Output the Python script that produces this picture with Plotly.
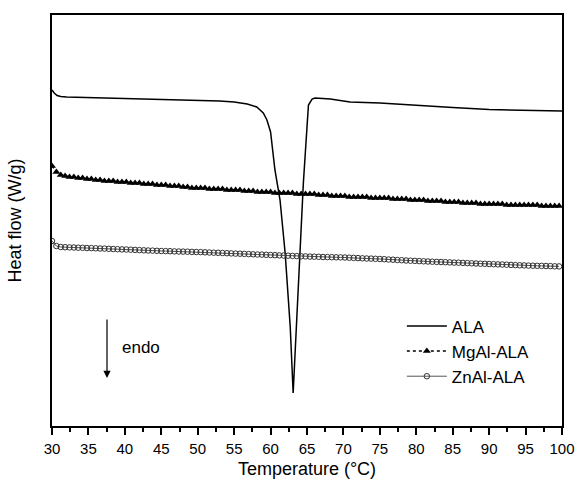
import plotly.graph_objects as go

# ---------------- data ----------------
ala_temp = [30.0, 30.3, 30.7, 31.2, 32.0, 35.0, 40.0, 45.0, 50.0, 53.0, 55.0, 56.8, 58.1, 59.0,
            59.5, 60.0, 60.6, 61.3, 62.0, 62.7, 63.1, 63.6, 64.0, 64.5, 65.0, 65.2, 65.7, 66.1,
            68.2, 70.9, 75.0, 80.0, 85.0, 90.0, 95.0, 100.0]
ala_heat = [3.36, 3.33, 3.305, 3.295, 3.29, 3.285, 3.277, 3.27, 3.26, 3.25, 3.24, 3.22, 3.19, 3.13,
            3.06, 2.94, 2.56, 2.26, 1.73, 0.99, 0.33, 1.06, 1.79, 2.43, 2.99, 3.21, 3.27, 3.28,
            3.27, 3.24, 3.23, 3.205, 3.185, 3.165, 3.155, 3.15]

ldh_temp = [30.0, 30.6, 31.2, 31.8, 32.4, 33.0, 33.6, 34.2, 34.8, 35.4, 36.0, 36.6, 37.2, 37.8,
            38.4, 39.0, 39.6, 40.2, 40.8, 41.4, 42.0, 42.6, 43.2, 43.8, 44.4, 45.0, 45.6, 46.2,
            46.8, 47.4, 48.0, 48.6, 49.2, 49.8, 50.4, 51.0, 51.6, 52.2, 52.8, 53.4, 54.0, 54.6,
            55.2, 55.8, 56.4, 57.0, 57.6, 58.2, 58.8, 59.4, 60.0, 60.6, 61.2, 61.8, 62.4, 63.0,
            63.6, 64.2, 64.8, 65.4, 66.0, 66.6, 67.2, 67.8, 68.4, 69.0, 69.6, 70.2, 70.8, 71.4,
            72.0, 72.6, 73.2, 73.8, 74.4, 75.0, 75.6, 76.2, 76.8, 77.4, 78.0, 78.6, 79.2, 79.8,
            80.4, 81.0, 81.6, 82.2, 82.8, 83.4, 84.0, 84.6, 85.2, 85.8, 86.4, 87.0, 87.6, 88.2,
            88.8, 89.4, 90.0, 90.6, 91.2, 91.8, 92.4, 93.0, 93.6, 94.2, 94.8, 95.4, 96.0, 96.6,
            97.2, 97.8, 98.4, 99.0, 99.6]

mgal_heat = [2.60, 2.54, 2.51, 2.50, 2.49, 2.49, 2.48, 2.48, 2.47, 2.47, 2.46, 2.46, 2.45, 2.45,
             2.45, 2.44, 2.44, 2.44, 2.43, 2.43, 2.43, 2.42, 2.42, 2.42, 2.41, 2.41, 2.41, 2.40,
             2.40, 2.40, 2.39, 2.39, 2.38, 2.38, 2.38, 2.38, 2.37, 2.37, 2.37, 2.37, 2.36, 2.36,
             2.36, 2.36, 2.35, 2.35, 2.35, 2.34, 2.34, 2.34, 2.34, 2.33, 2.33, 2.33, 2.33, 2.33,
             2.32, 2.32, 2.32, 2.32, 2.32, 2.31, 2.31, 2.31, 2.30, 2.30, 2.30, 2.30, 2.29, 2.29,
             2.29, 2.29, 2.29, 2.28, 2.28, 2.28, 2.28, 2.28, 2.27, 2.27, 2.27, 2.27, 2.26, 2.26,
             2.26, 2.26, 2.25, 2.25, 2.25, 2.25, 2.24, 2.24, 2.24, 2.24, 2.23, 2.23, 2.23, 2.23,
             2.22, 2.22, 2.22, 2.22, 2.22, 2.22, 2.21, 2.21, 2.21, 2.21, 2.21, 2.21, 2.21, 2.21,
             2.20, 2.20, 2.20, 2.20, 2.20]

znal_heat = [1.850, 1.800, 1.790, 1.788, 1.786, 1.785, 1.783, 1.782, 1.780, 1.779, 1.777, 1.775,
             1.774, 1.772, 1.770, 1.768, 1.766, 1.765, 1.763, 1.761, 1.759, 1.757, 1.755, 1.754,
             1.752, 1.750, 1.749, 1.748, 1.746, 1.745, 1.744, 1.743, 1.741, 1.740, 1.739, 1.737,
             1.735, 1.733, 1.732, 1.730, 1.728, 1.726, 1.724, 1.723, 1.721, 1.719, 1.717, 1.715,
             1.714, 1.712, 1.710, 1.708, 1.706, 1.705, 1.703, 1.701, 1.699, 1.697, 1.696, 1.694,
             1.693, 1.692, 1.690, 1.689, 1.688, 1.687, 1.686, 1.685, 1.683, 1.681, 1.679, 1.677,
             1.675, 1.674, 1.672, 1.670, 1.668, 1.665, 1.663, 1.660, 1.658, 1.655, 1.653, 1.651,
             1.649, 1.647, 1.645, 1.643, 1.641, 1.640, 1.638, 1.636, 1.634, 1.633, 1.631, 1.629,
             1.627, 1.625, 1.623, 1.622, 1.620, 1.618, 1.616, 1.615, 1.613, 1.611, 1.609, 1.607,
             1.606, 1.604, 1.603, 1.602, 1.601, 1.600, 1.599, 1.597, 1.596]

x_ticks = [30, 35, 40, 45, 50, 55, 60, 65, 70, 75, 80, 85, 90, 95, 100]
series_names = ["ALA", "MgAl-ALA", "ZnAl-ALA"]

# ---------------- figure ----------------
FONT = "Liberation Sans, Arial, sans-serif"
fig = go.Figure()

fig.add_trace(go.Scatter(
    x=ala_temp, y=ala_heat, name=series_names[0], mode="lines",
    line=dict(color="black", width=1.5),
))
fig.add_trace(go.Scatter(
    x=ldh_temp, y=mgal_heat, name=series_names[1], mode="lines+markers",
    line=dict(color="black", width=1.5, dash="dot"),
    marker=dict(symbol="triangle-up", size=7, color="black"),
))
fig.add_trace(go.Scatter(
    x=ldh_temp, y=znal_heat, name=series_names[2], mode="lines+markers",
    line=dict(color="#555555", width=1),
    marker=dict(symbol="circle-open", size=5.5, color="#333333", line=dict(width=1)),
))

fig.add_annotation(
    x=37.55, y=0.48, ax=37.55, ay=1.08, xref="x", yref="y", axref="x", ayref="y",
    text="", showarrow=True, arrowhead=2, arrowsize=1.2, arrowwidth=1.2, arrowcolor="black",
)
fig.add_annotation(
    x=39.3, y=0.79, xref="x", yref="y", text="endo", showarrow=False,
    xanchor="left", yanchor="middle", font=dict(family=FONT, size=17, color="black"),
)

axis_common = dict(showline=True, linecolor="black", linewidth=1.5, mirror=True,
                   showgrid=False, zeroline=False, automargin=False)

fig.update_layout(
    width=576, height=487,
    margin=dict(l=52, r=14, t=15, b=61),
    paper_bgcolor="white", plot_bgcolor="white",
    font=dict(family=FONT, color="black"),
    showlegend=True,
    legend=dict(x=0.686, y=0.286, xanchor="left", yanchor="top",
                bgcolor="rgba(0,0,0,0)", font=dict(family=FONT, size=17),
                itemwidth=40, tracegroupgap=0),
    xaxis=dict(range=[30, 100], tickmode="array", tickvals=x_ticks,
               ticktext=[str(t) for t in x_ticks],
               ticks="outside", ticklen=7, tickwidth=1.5, tickcolor="black",
               tickfont=dict(family=FONT, size=15), ticklabelstandoff=1,
               minor=dict(ticks="outside", ticklen=4, tickwidth=1.5, tickcolor="black", dtick=2.5),
               title=dict(text="Temperature (°C)", font=dict(family=FONT, size=18), standoff=7),
               **axis_common),
    yaxis=dict(range=[0, 4.11], showticklabels=False, ticks="",
               title=dict(text="Heat flow (W/g)", font=dict(family=FONT, size=18), standoff=24),
               **axis_common),
)

fig.write_html("out.html", config={"displayModeBar": False},
               post_script="document.body.style.margin='0px';")
